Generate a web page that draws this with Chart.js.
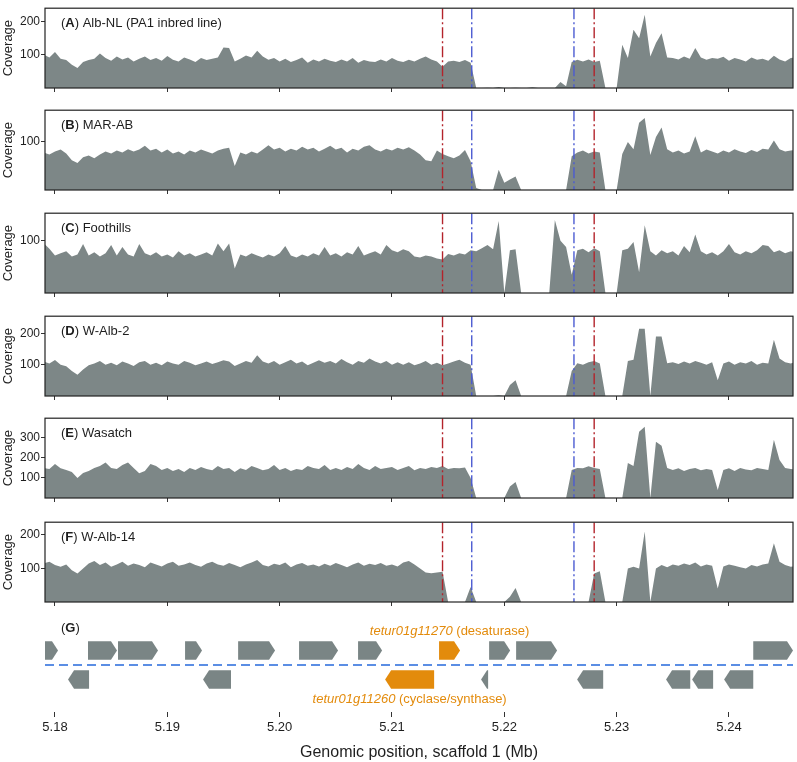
<!DOCTYPE html>
<html>
<head>
<meta charset="utf-8">
<script src="https://cdn.jsdelivr.net/npm/chart.js@4/dist/chart.umd.min.js"></script>
<style>
  body { margin: 0; background: #fff; width: 797px; height: 762px; position: relative; overflow: hidden; }
  canvas { position: absolute; left: 0; }
</style>
</head>
<body>
<script>
// ---- data ----
const binStartMb = 5.179;   // first coverage bin
const binSizeMb = 0.0005;   // 0.5 kb bins
const xMinMb = 5.17911;
const xMaxMb = 5.2457;
const xTickValues = [5.18, 5.19, 5.20, 5.21, 5.22, 5.23, 5.24];

const panelLetters = ['A', 'B', 'C', 'D', 'E', 'F'];
const panelNames = ['Alb-NL (PA1 inbred line)', 'MAR-AB', 'Foothills', 'W-Alb-2', 'Wasatch', 'W-Alb-14'];
const panelYMax = [240, 166, 153, 255, 398, 238];
const panelYTicks = [[100, 200], [100], [100], [100, 200], [100, 200, 300], [100, 200]];

const redLines = [5.2145, 5.2280];
const blueLines = [5.2171, 5.2262];

const covA = [100, 92, 108, 88, 84, 70, 60, 78, 84, 88,
  104, 90, 82, 95, 86, 92, 80, 88, 95, 84,
  90, 82, 96, 85, 80, 92, 86, 78, 90, 84,
  88, 92, 122, 120, 80, 88, 98, 92, 112, 95,
  85, 90, 80, 88, 78, 84, 92, 76, 86, 80,
  88, 82, 78, 86, 80, 90, 76, 84, 80, 78,
  86, 80, 90, 82, 78, 85, 80, 88, 95, 86,
  80, 64, 80, 82, 78, 84, 76, 0, 0, 1,
  0, 3, 0, 0, 1, 0, 0, 2, 0, 0,
  0, 0, 18, 5, 78, 85, 80, 86, 78, 82,
  0, 0, 0, 130, 90, 175, 150, 220, 95, 135,
  165, 92, 90, 86, 95, 88, 120, 92, 85, 90,
  88, 94, 82, 90, 86, 80, 92, 85, 88, 82,
  97, 86, 80, 90, 92];
const covB = [78, 74, 80, 84, 76, 62, 56, 68, 72, 66,
  74, 80, 76, 82, 78, 85, 80, 84, 92, 82,
  86, 78, 84, 76, 80, 74, 82, 78, 84, 80,
  76, 82, 86, 88, 50, 78, 74, 80, 76, 84,
  93, 84, 88, 80, 86, 82, 90, 84, 88, 80,
  86, 92, 84, 88, 78, 86, 82, 90, 93, 84,
  80, 86, 82, 88, 84, 89, 82, 74, 62, 60,
  82, 75, 70, 66, 72, 83, 60, 4, 0, 0,
  0, 42, 15, 22, 28, 0, 0, 0, 0, 0,
  0, 0, 0, 0, 70, 78, 82, 76, 80, 78,
  0, 0, 0, 75, 100, 85, 140, 150, 73, 110,
  130, 85, 78, 82, 76, 80, 112, 78, 84, 80,
  76, 82, 78, 85, 80, 77, 83, 79, 86, 84,
  103, 85, 80, 82, 84];
const covC = [95, 85, 72, 76, 80, 70, 74, 94, 72, 78,
  70, 76, 92, 72, 88, 74, 70, 94, 76, 72,
  78, 70, 74, 68, 80, 72, 76, 70, 74, 78,
  72, 95, 80, 95, 47, 74, 70, 76, 72, 68,
  74, 70, 76, 90, 72, 68, 74, 70, 76, 72,
  88, 72, 76, 70, 78, 74, 90, 72, 76, 80,
  74, 92, 82, 78, 84, 80, 70, 68, 72, 70,
  66, 64, 75, 72, 76, 74, 82, 80, 86, 92,
  84, 138, 0, 82, 84, 0, 0, 0, 0, 0,
  0, 140, 100, 88, 35, 82, 85, 78, 86, 80,
  0, 0, 0, 82, 85, 98, 40, 130, 80, 72,
  82, 76, 80, 72, 90, 78, 112, 80, 74, 78,
  72, 80, 94, 78, 74, 80, 76, 82, 92, 90,
  78, 82, 76, 80, 78];
const covD = [110, 104, 115, 100, 95, 80, 68, 85, 98, 104,
  112, 100, 106, 98, 110, 104, 96, 108, 112, 100,
  106, 98, 110, 104, 100, 112, 106, 98, 104, 110,
  102, 108, 114, 110, 96, 104, 112, 106, 130, 110,
  104, 112, 100, 108, 116, 104, 110, 98, 106, 114,
  106, 112, 104, 118, 108, 100, 112, 106, 120, 110,
  104, 112, 100, 108, 100, 108, 98, 104, 112, 100,
  106, 98, 104, 110, 116, 106, 100, 0, 0, 0,
  0, 2, 0, 35, 50, 0, 0, 0, 0, 0,
  0, 0, 0, 0, 80, 105, 100, 108, 112, 104,
  0, 0, 0, 0, 112, 116, 215, 215, 0, 190,
  190, 105, 108, 102, 110, 104, 112, 106, 100, 108,
  50, 104, 110, 100, 108, 104, 112, 100, 106, 104,
  180, 120, 108, 104, 110];
const covE = [150, 145, 170, 148, 140, 130, 100, 125, 135, 150,
  160, 177, 150, 145, 165, 177, 150, 123, 135, 170,
  160, 140, 150, 135, 145, 130, 150, 140, 155, 145,
  138, 160, 145, 150, 130, 148, 140, 160, 150, 138,
  145, 165, 140, 150, 135, 145, 140, 160, 150, 145,
  165, 140, 150, 140, 155, 145, 170, 150, 140, 160,
  145, 150, 155, 140, 150, 160, 138, 150, 145, 155,
  150, 160, 145, 150, 148, 152, 100, 0, 0, 0,
  0, 0, 0, 57, 80, 0, 0, 0, 0, 0,
  0, 0, 0, 0, 140, 150, 148, 158, 150, 145,
  0, 0, 0, 0, 175, 160, 330, 355, 0, 280,
  260, 150, 140, 148, 135, 145, 150, 138, 145, 140,
  40, 140, 148, 135, 150, 142, 138, 150, 145, 140,
  290, 190, 150, 145, 140];
const covF = [115, 120, 110, 105, 112, 95, 85, 100, 115, 122,
  110, 118, 105, 112, 120, 108, 115, 110, 104, 118,
  112, 106, 115, 120, 108, 112, 118, 110, 105, 115,
  120, 112, 108, 116, 110, 104, 112, 118, 125, 110,
  106, 114, 110, 118, 104, 112, 116, 108, 112, 106,
  114, 108, 116, 110, 104, 112, 118, 108, 114, 110,
  116, 108, 112, 106, 118, 122, 112, 100, 88, 86,
  88, 90, 0, 0, 0, 0, 45, 0, 0, 0,
  0, 0, 0, 16, 42, 0, 0, 0, 0, 0,
  0, 0, 0, 0, 0, 0, 0, 0, 85, 92,
  0, 0, 0, 0, 100, 105, 100, 210, 0, 100,
  110, 104, 112, 108, 115, 110, 118, 106, 112, 108,
  40, 106, 112, 108, 104, 100, 110, 106, 112, 115,
  175, 120, 110, 105, 108];
const coverage = [covA, covB, covC, covD, covE, covF];

// genes (Mb), strand +1 above the line, -1 below
const geneStart  = [5.1785, 5.18294, 5.18561, 5.19158, 5.19630, 5.20173, 5.20698, 5.21419, 5.21865, 5.22105, 5.24216,
                    5.18116, 5.19318, 5.20939, 5.21793, 5.22648, 5.23440, 5.23672, 5.23957];
const geneEnd    = [5.18027, 5.18552, 5.18917, 5.19309, 5.19959, 5.20520, 5.20912, 5.21606, 5.22052, 5.22470, 5.2457,
                    5.18303, 5.19567, 5.21375, 5.21856, 5.22880, 5.23655, 5.23859, 5.24216];
const geneStrand = [1, 1, 1, 1, 1, 1, 1, 1, 1, 1, 1,
                    -1, -1, -1, -1, -1, -1, -1, -1];
const geneLabelIndex = [7, 13];
const geneLabelName = ['tetur01g11270', 'tetur01g11260'];
const geneLabelNote = [' (desaturase)', ' (cyclase/synthase)'];

// ---- styling ----
const FONT = '"Liberation Sans", Arial, sans-serif';
const TXT = '#1e1e1e';
const GREY = '#7d8787';
const ORANGE = '#e38b0c';
const panelTops = [2, 104, 207, 310, 412, 516];

const positions = coverage[0].map((_, i) => binStartMb + i * binSizeMb);

function makeCanvas(top, h) {
  const c = document.createElement('canvas');
  c.width = 797; c.height = h;
  c.style.top = top + 'px';
  c.style.width = '797px'; c.style.height = h + 'px';
  document.body.appendChild(c);
  return c;
}

function drawParts(ctx, x, y, parts, size) {
  ctx.textBaseline = 'middle';
  ctx.textAlign = 'left';
  for (const p of parts) {
    ctx.font = (p.i ? 'italic ' : '') + (p.b ? 'bold ' : '') + size + 'px ' + FONT;
    ctx.fillStyle = p.c || TXT;
    ctx.fillText(p.t, x, y);
    x += ctx.measureText(p.t).width;
  }
}

function partsWidth(ctx, parts, size) {
  let w = 0;
  for (const p of parts) {
    ctx.font = (p.i ? 'italic ' : '') + (p.b ? 'bold ' : '') + size + 'px ' + FONT;
    w += ctx.measureText(p.t).width;
  }
  return w;
}

const panelDecor = {
  id: 'panelDecor',
  afterDatasetsDraw(chart, args, opts) {
    const { ctx, chartArea: a, scales: { x } } = chart;
    ctx.save();
    ctx.beginPath();
    ctx.rect(a.left, a.top, a.right - a.left, a.bottom - a.top);
    ctx.clip();
    ctx.lineWidth = 1.4;
    ctx.setLineDash([11, 3, 2, 3]);
    [[redLines, '#b3232b'], [blueLines, '#4b5bd2']].forEach(([vals, col]) => {
      ctx.strokeStyle = col;
      vals.forEach(v => {
        const px = x.getPixelForValue(v);
        ctx.beginPath();
        ctx.moveTo(px, a.top);
        ctx.lineTo(px, a.bottom);
        ctx.stroke();
      });
    });
    ctx.restore();

    ctx.save();
    ctx.lineWidth = 1.2;
    ctx.strokeStyle = '#222';
    ctx.strokeRect(a.left, a.top, a.right - a.left, a.bottom - a.top);
    drawParts(ctx, a.left + 16, a.top + 15,
      [{ t: '(' }, { t: opts.letter, b: true }, { t: ') ' + opts.name }], 13);
    ctx.restore();
  }
};

panelLetters.forEach((letter, k) => {
  const cv = makeCanvas(panelTops[k] - 2, 100);
  new Chart(cv, {
    type: 'line',
    data: {
      labels: positions,
      datasets: [{
        data: coverage[k].map((v, i) => ({ x: positions[i], y: v })),
        backgroundColor: GREY,
        borderWidth: 0,
        pointRadius: 0,
        fill: 'origin',
        tension: 0
      }]
    },
    options: {
      responsive: false,
      animation: false,
      events: [],
      layout: { padding: { left: 0, right: 4, top: 2, bottom: 6 } },
      plugins: {
        legend: { display: false },
        tooltip: { enabled: false },
        panelDecor: { letter: letter, name: panelNames[k] }
      },
      scales: {
        x: {
          type: 'linear', min: xMinMb, max: xMaxMb,
          afterBuildTicks: s => { s.ticks = xTickValues.map(v => ({ value: v })); },
          afterFit: s => { s.height = 6; },
          ticks: { display: false },
          grid: { drawOnChartArea: false, tickLength: 4, color: '#333', lineWidth: 1 },
          border: { display: false }
        },
        y: {
          min: 0, max: panelYMax[k],
          afterBuildTicks: s => { s.ticks = panelYTicks[k].map(v => ({ value: v })); },
          afterFit: s => { s.width = 45; },
          ticks: { font: { family: FONT, size: 12 }, color: TXT, padding: 1 },
          grid: { drawOnChartArea: false, tickLength: 4, color: '#333', lineWidth: 1 },
          border: { display: false },
          title: { display: true, text: 'Coverage', font: { family: FONT, size: 13 }, color: TXT, padding: { top: 1, bottom: 0 } }
        }
      }
    },
    plugins: [panelDecor]
  });
});

// ---- gene track ----
const geneTrack = {
  id: 'geneTrack',
  afterDatasetsDraw(chart) {
    const { ctx, chartArea: a, scales: { x, y } } = chart;
    ctx.save();
    ctx.beginPath();
    ctx.rect(a.left, a.top - 20, a.right - a.left, a.bottom - a.top + 20);
    ctx.clip();

    // strand line
    ctx.strokeStyle = '#5b8ee4';
    ctx.lineWidth = 2;
    ctx.setLineDash([9, 5]);
    ctx.beginPath();
    ctx.moveTo(a.left, y.getPixelForValue(0));
    ctx.lineTo(a.right, y.getPixelForValue(0));
    ctx.stroke();
    ctx.setLineDash([]);

    geneStart.forEach((s, i) => {
      const x0 = x.getPixelForValue(s), x1 = x.getPixelForValue(geneEnd[i]);
      const yc = y.getPixelForValue(geneStrand[i]);
      const yt = y.getPixelForValue(geneStrand[i] + 0.64);
      const yb = y.getPixelForValue(geneStrand[i] - 0.64);
      const head = Math.min(6, x1 - x0);
      ctx.fillStyle = geneLabelIndex.includes(i) ? ORANGE : '#7a8585';
      ctx.beginPath();
      if (geneStrand[i] > 0) {
        ctx.moveTo(x0, yt); ctx.lineTo(x1 - head, yt); ctx.lineTo(x1, yc);
        ctx.lineTo(x1 - head, yb); ctx.lineTo(x0, yb);
      } else {
        ctx.moveTo(x1, yt); ctx.lineTo(x0 + head, yt); ctx.lineTo(x0, yc);
        ctx.lineTo(x0 + head, yb); ctx.lineTo(x1, yb);
      }
      ctx.closePath();
      ctx.fill();
    });
    ctx.restore();

    ctx.save();
    drawParts(ctx, a.left + 16, y.getPixelForValue(2.55), [{ t: '(' }, { t: 'G', b: true }, { t: ')' }], 13);
    geneLabelIndex.forEach((gi, j) => {
      const parts = [{ t: geneLabelName[j], i: true, c: ORANGE }, { t: geneLabelNote[j], c: ORANGE }];
      const w = partsWidth(ctx, parts, 13);
      const cx = (x.getPixelForValue(geneStart[gi]) + x.getPixelForValue(geneEnd[gi])) / 2;
      const ly = y.getPixelForValue(geneStrand[gi] > 0 ? 2.28 : -2.41);
      drawParts(ctx, cx - w / 2, ly, parts, 13);
    });
    ctx.restore();
  }
};

const gc = makeCanvas(605, 157);
new Chart(gc, {
  type: 'scatter',
  data: { datasets: [{ data: [] }] },
  options: {
    responsive: false,
    animation: false,
    events: [],
    layout: { padding: { left: 45, right: 4, top: 15, bottom: 0 } },
    plugins: { legend: { display: false }, tooltip: { enabled: false } },
    scales: {
      x: {
        type: 'linear', min: xMinMb, max: xMaxMb,
        afterBuildTicks: s => { s.ticks = xTickValues.map(v => ({ value: v })); },
        afterFit: s => { s.height = 50; },
        ticks: { font: { family: FONT, size: 13 }, color: TXT, padding: 3, maxRotation: 0,
                 callback: v => v.toFixed(2) },
        grid: { drawOnChartArea: false, tickLength: 5, color: '#333', lineWidth: 1 },
        border: { display: false },
        title: { display: true, text: 'Genomic position, scaffold 1 (Mb)', font: { family: FONT, size: 16 }, color: TXT, padding: 0 }
      },
      y: { display: false, min: -3.25, max: 3.1 }
    }
  },
  plugins: [geneTrack]
});
</script>
</body>
</html>
